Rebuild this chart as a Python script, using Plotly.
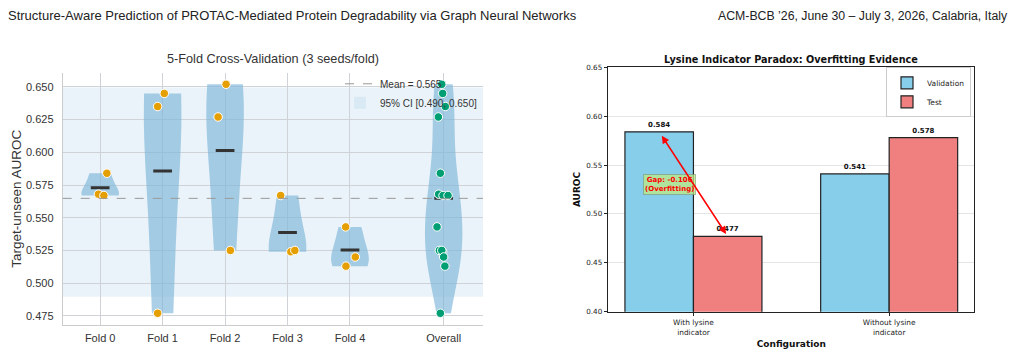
import numpy as np
import plotly.graph_objects as go

# ---------------- data ----------------
FOLD_LABELS = ["Fold 0", "Fold 1", "Fold 2", "Fold 3", "Fold 4"]
OVERALL_LABEL = "Overall"
FOLD_SCORES = [
    [0.584, 0.568, 0.567],
    [0.645, 0.635, 0.477],
    [0.652, 0.627, 0.525],
    [0.567, 0.524, 0.525],
    [0.543, 0.520, 0.513],
]
# horizontal strip-plot jitter (category units)
FOLD_JITTER = [
    [0.107, -0.027, 0.059],
    [0.027, -0.080, -0.080],
    [0.016, -0.112, 0.085],
    [-0.110, 0.053, 0.117],
    [-0.069, 0.085, -0.064],
]
OVERALL_JITTER = [-0.053, -0.080, -0.010, -0.016, 0.027, -0.053, -0.030, -0.085,
                  -0.069, 0.070, -0.016, -0.030, -0.106, 0.000, 0.020]

CONFIGS = ["With lysine<br>indicator", "Without lysine<br>indicator"]
VAL_AUROC = [0.584, 0.541]
TEST_AUROC = [0.477, 0.578]

# ---------------- layout constants ----------------
W, H = 1022, 354
FOLD_POS = [0, 1, 2, 3, 4]
OVERALL_POS = 5.5
VIOLIN_W = 0.6
MEAN_HALF = 0.15
BAR_W = 0.35

L_FONT = "Liberation Sans, Arial, sans-serif"
R_FONT = "DejaVu Sans, sans-serif"
HDR_FONT = "Linux Biolinum O, Liberation Sans, sans-serif"


def px_x(p):
    return p / W


def px_y(p):
    return 1 - p / H


L_DOM_X = [px_x(62.7), px_x(483)]
L_DOM_Y = [px_y(329), px_y(70.7)]
R_DOM_X = [px_x(608.3), px_x(974.3)]
R_DOM_Y = [px_y(315.7), px_y(65)]

VIOLIN_FILL = "rgba(125,182,217,0.65)"
PT_FOLD = "#E69F00"
PT_ALL = "#009E73"

fig = go.Figure()

all_scores = [v for s in FOLD_SCORES for v in s]
groups = [(p, s, j, PT_FOLD) for p, s, j in zip(FOLD_POS, FOLD_SCORES, FOLD_JITTER)]
groups.append((OVERALL_POS, all_scores, OVERALL_JITTER, PT_ALL))

for pos, vals, jit, col in groups:
    arr = np.array(vals)
    bw = arr.std(ddof=1) * len(arr) ** (-1 / 5)
    fig.add_trace(go.Violin(
        x=[pos] * len(vals), y=vals, xaxis="x", yaxis="y", orientation="v",
        width=VIOLIN_W, spanmode="hard", bandwidth=bw, scalemode="width",
        fillcolor=VIOLIN_FILL, line=dict(width=0, color=VIOLIN_FILL),
        points=False, box_visible=False, meanline_visible=False,
        showlegend=False, hoverinfo="skip"))

for pos, vals, jit, col in groups:
    m = float(np.mean(vals))
    fig.add_trace(go.Scatter(
        x=[pos - MEAN_HALF, pos + MEAN_HALF], y=[m, m], mode="lines",
        line=dict(color="#333333", width=3), xaxis="x", yaxis="y",
        showlegend=False, hoverinfo="skip"))

for pos, vals, jit, col in groups:
    fig.add_trace(go.Scatter(
        x=[pos + j for j in jit], y=vals, mode="markers",
        marker=dict(color=col, size=8.5, line=dict(color="white", width=1)),
        xaxis="x", yaxis="y", showlegend=False, hoverinfo="skip"))

overall_mean = float(np.mean(all_scores))
ci_lo, ci_hi = np.percentile(all_scores, [2.5, 97.5])

fig.add_shape(type="rect", xref="x domain", yref="y", x0=0, x1=1, y0=ci_lo, y1=ci_hi,
              fillcolor="rgba(173,206,230,0.25)", line=dict(width=0), layer="below",
              showlegend=True, legend="legend", legendrank=2,
              name=f"95% CI [{ci_lo:.3f}, {ci_hi:.3f}]")
fig.add_shape(type="line", xref="x domain", yref="y", x0=0, x1=1, y0=overall_mean, y1=overall_mean,
              line=dict(color="#999999", width=1, dash="dash"), layer="above",
              showlegend=True, legend="legend", legendrank=1,
              name=f"Mean = {overall_mean:.3f}")

# ---------------- right chart ----------------
x_idx = list(range(len(CONFIGS)))
fig.add_trace(go.Bar(
    x=x_idx, y=VAL_AUROC, name="Validation", xaxis="x2", yaxis="y2",
    marker=dict(color="#87CEEB", line=dict(color="#222222", width=1.2)),
    texttemplate="<b>%{y:.3f}</b>", textposition="outside", cliponaxis=False,
    textfont=dict(family=R_FONT, size=7, color="#111111"), legend="legend2"))
fig.add_trace(go.Bar(
    x=x_idx, y=TEST_AUROC, name="Test", xaxis="x2", yaxis="y2",
    marker=dict(color="#F08080", line=dict(color="#222222", width=1.2)),
    texttemplate="<b>%{y:.3f}</b>", textposition="outside", cliponaxis=False,
    textfont=dict(family=R_FONT, size=7, color="#111111"), legend="legend2"))

annotations = [
    dict(text="Structure-Aware Prediction of PROTAC-Mediated Protein Degradability via Graph Neural Networks",
         x=px_x(6), y=px_y(12), xref="paper", yref="paper", xanchor="left", yanchor="middle",
         showarrow=False, font=dict(family=HDR_FONT, size=13, color="#222222")),
    dict(text="ACM-BCB ’26, June 30 – July 3, 2026, Calabria, Italy",
         x=px_x(1010), y=px_y(12), xref="paper", yref="paper", xanchor="right", yanchor="middle",
         showarrow=False, font=dict(family=HDR_FONT, size=12.3, color="#222222")),
    dict(text="5-Fold Cross-Validation (3 seeds/fold)",
         x=(L_DOM_X[0] + L_DOM_X[1]) / 2, y=px_y(56), xref="paper", yref="paper",
         xanchor="center", yanchor="middle", showarrow=False,
         font=dict(family=L_FONT, size=12.7, color="#333333")),
    dict(text="<b>Lysine Indicator Paradox: Overfitting Evidence</b>",
         x=(R_DOM_X[0] + R_DOM_X[1]) / 2, y=px_y(57), xref="paper", yref="paper",
         xanchor="center", yanchor="middle", showarrow=False,
         font=dict(family=R_FONT, size=9.7, color="#111111")),
    dict(text="<b>Gap: -0.106<br>(Overfitting)</b>",
         x=0, y=0.53, xref="x2", yref="y2", xanchor="right", yanchor="middle", xshift=3,
         showarrow=False, font=dict(family=R_FONT, size=7, color="red"),
         bgcolor="rgba(190,235,130,0.75)", bordercolor="rgba(120,150,120,0.6)",
         borderwidth=1, borderpad=1),
    dict(text="", x=BAR_W / 2, y=TEST_AUROC[0], ax=-BAR_W / 2, ay=VAL_AUROC[0],
         xref="x2", yref="y2", axref="x2", ayref="y2", showarrow=True,
         arrowhead=2, arrowside="end+start", arrowsize=1, arrowwidth=1.5,
         arrowcolor="red", standoff=3, startstandoff=3),
]

tickvals_l = [0.475, 0.500, 0.525, 0.550, 0.575, 0.600, 0.625, 0.650]

fig.update_layout(
    width=W, height=H, margin=dict(l=0, r=0, t=0, b=0),
    paper_bgcolor="white", plot_bgcolor="white",
    violinmode="overlay", barmode="group", bargap=0.3, bargroupgap=0,
    annotations=annotations,
    xaxis=dict(domain=L_DOM_X, range=[-0.6, 6.13], anchor="y",
               tickvals=FOLD_POS + [OVERALL_POS], ticktext=FOLD_LABELS + [OVERALL_LABEL],
               showgrid=True, gridcolor="#cfd3d8", gridwidth=1, zeroline=False,
               showline=True, linecolor="#cccccc", linewidth=1, ticks="",
               ticklabelstandoff=3,
               tickfont=dict(family=L_FONT, size=11, color="#333333")),
    yaxis=dict(domain=L_DOM_Y, range=[0.4683, 0.6607], anchor="x",
               tickvals=tickvals_l, tickformat=".3f",
               showgrid=True, gridcolor="#cfd3d8", gridwidth=1, zeroline=False,
               showline=True, linecolor="#cccccc", linewidth=1, ticks="",
               ticklabelstandoff=6,
               tickfont=dict(family=L_FONT, size=11, color="#333333"),
               title=dict(text="Target-unseen AUROC", standoff=1,
                          font=dict(family=L_FONT, size=13.5, color="#333333"))),
    xaxis2=dict(domain=R_DOM_X, range=[-0.435, 1.435], anchor="y2",
                tickvals=x_idx, ticktext=CONFIGS, ticks="outside", ticklen=3.5,
                tickcolor="#222222", showgrid=False, zeroline=False,
                showline=True, linecolor="#222222", linewidth=1.2, mirror=True,
                tickfont=dict(family=R_FONT, size=7.4, color="#222222"),
                title=dict(text="<b>Configuration</b>", standoff=4,
                           font=dict(family=R_FONT, size=9, color="#111111"))),
    yaxis2=dict(domain=R_DOM_Y, range=[0.40, 0.65], anchor="x2",
                tickvals=[0.40, 0.45, 0.50, 0.55, 0.60, 0.65], tickformat=".2f",
                ticks="outside", ticklen=3.5, tickcolor="#222222",
                showgrid=True, gridcolor="rgba(0,0,0,0.1)", gridwidth=0.8, zeroline=False,
                showline=True, linecolor="#222222", linewidth=1.2, mirror=True,
                tickfont=dict(family=R_FONT, size=7.2, color="#222222"),
                title=dict(text="<b>AUROC</b>", standoff=4,
                           font=dict(family=R_FONT, size=9, color="#111111"))),
    legend=dict(x=px_x(340), y=px_y(67), xanchor="left", yanchor="top",
                bgcolor="rgba(0,0,0,0)", borderwidth=0,
                font=dict(family=L_FONT, size=10, color="#333333"), tracegroupgap=0),
    legend2=dict(x=px_x(971), y=px_y(65), xanchor="right", yanchor="top",
                 bgcolor="white", bordercolor="#cccccc", borderwidth=1,
                 font=dict(family=R_FONT, size=7.5, color="#222222"), tracegroupgap=0),
)

fig.write_html("out.html")
